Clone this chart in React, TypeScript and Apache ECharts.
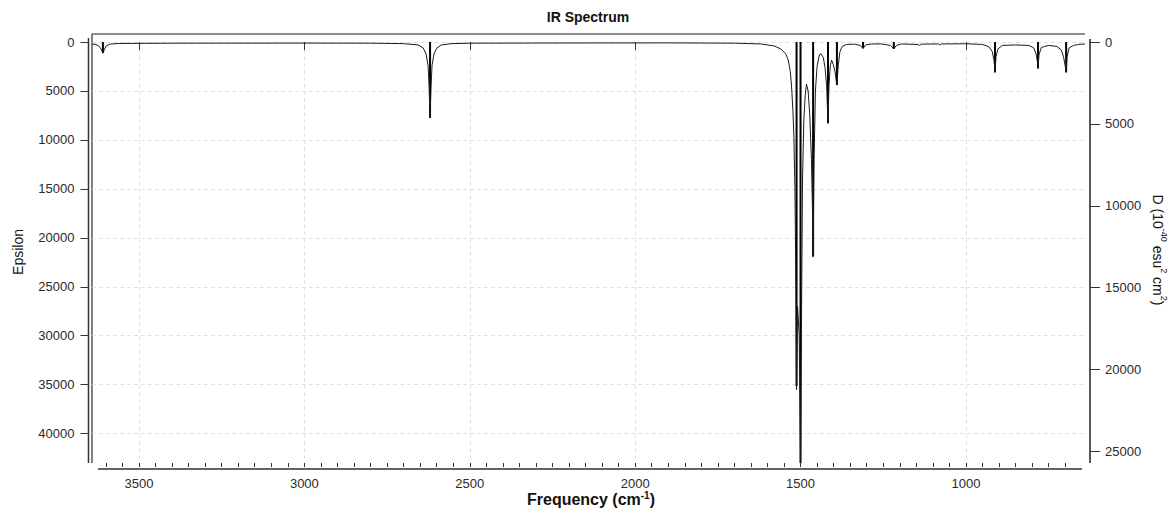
import React, { useEffect, useRef } from "react";
import * as echarts from "echarts";

// ---- data (frequency cm^-1, epsilon) ----
const specHigh: [number, number][] = [
  [3642, 200], [3630, 250], [3620, 450], [3613, 800], [3609, 1150], [3605, 800], [3599, 400],
  [3588, 220], [3560, 150], [3400, 120], [3000, 110], [2800, 120], [2700, 170], [2656, 300],
  [2641, 600], [2632, 1200], [2626, 2400], [2623, 4500], [2620, 7750], [2617, 4500], [2614, 2400],
  [2608, 1200], [2599, 600], [2586, 300], [2556, 170], [2500, 120], [2200, 100], [1900, 90],
  [1700, 120], [1620, 200],
];
const specMain: [number, number][] = [
  [1580, 400], [1560, 700], [1545, 1200], [1537, 1850], [1531, 3000], [1527, 4600], [1523, 7000],
  [1520, 9700], [1517, 15000], [1514, 25000], [1512, 35500], [1509, 27000], [1504, 30000],
  [1500, 43000], [1497, 28000], [1494, 14000], [1490, 8000], [1486, 5500], [1482, 4300],
  [1477, 5000], [1472, 7500], [1467, 12000], [1464, 17000], [1462, 21900], [1459, 12000],
  [1455, 5000], [1450, 2500], [1443, 1300], [1438, 1200], [1431, 1600], [1426, 2600],
  [1421, 4500], [1417, 8300], [1414, 4500], [1410, 2400], [1406, 1850], [1401, 2300],
  [1396, 3000], [1390, 4400], [1386, 2400], [1381, 1000], [1374, 450], [1361, 250],
];
const specLow: [number, number][] = [
  [1336, 220], [1320, 350], [1311, 650], [1303, 300], [1285, 200], [1255, 200], [1228, 350],
  [1218, 700], [1210, 350], [1195, 200], [1145, 250], [1140, 350], [1135, 220], [1082, 200],
  [1078, 320], [1074, 200], [1000, 180], [950, 250], [930, 500], [920, 1000], [915, 1900],
  [912, 3100], [909, 1500], [903, 700], [890, 350], [850, 300], [810, 350], [795, 600],
  [788, 1200], [784, 2000], [782, 2700], [779, 1300], [772, 550], [750, 350], [725, 450],
  [712, 800], [705, 1500], [700, 2400], [697, 3100], [694, 1500], [688, 600], [675, 350],
  [660, 250], [640, 200],
];
// stick spectrum (dipole strength D, right axis)
const stickFreq = [3609, 2620, 1512, 1500, 1462, 1417, 1390, 1311, 1218, 912, 782, 697];
const stickD = [650, 4630, 21000, 25700, 13100, 4960, 2630, 390, 420, 1850, 1610, 1850];

const xMajor = [1000, 1500, 2000, 2500, 3000, 3500];
const xMinor = [700, 750, 800, 850, 900, 950, 1000, 1050, 1100, 1150, 1200, 1250, 1300, 1350,
  1400, 1450, 1500, 1550, 1600, 1650, 1700, 1750, 1800, 1850, 1900, 1950, 2000, 2050, 2100,
  2150, 2200, 2250, 2300, 2350, 2400, 2450, 2500, 2550, 2600, 2650, 2700, 2750, 2800, 2850,
  2900, 2950, 3000, 3050, 3100, 3150, 3200, 3250, 3300, 3350, 3400, 3450, 3500, 3550, 3600];
const yLeftTicks = [0, 5000, 10000, 15000, 20000, 25000, 30000, 35000, 40000];
const yRightTicks = [0, 5000, 10000, 15000, 20000, 25000];

const FONT = "'Liberation Sans', Arial, Helvetica, sans-serif";
const TXT = "#2a2a2a";
const plain = (v: number) => String(v);

export default function App() {
  const ref = useRef<HTMLDivElement>(null);
  useEffect(() => {
    if (!ref.current) return;
    const chart = echarts.init(ref.current, null, { renderer: "svg" });
    const curve = [...specHigh, ...specMain, ...specLow];
    const sticks = stickFreq.map((f, i) => [f, stickD[i]]);
    const xMin = 640, xMax = 3642;
    const gridBox = { left: 92, right: 87, top: 42, bottom: 46, containLabel: false };
    chart.setOption({
      animation: false,
      backgroundColor: "#ffffff",
      grid: [gridBox, { ...gridBox }],
      xAxis: [
        {
          type: "value", gridIndex: 0, inverse: true, min: xMin, max: xMax, position: "bottom", offset: 6,
          axisLine: { show: false },
          axisTick: { show: true, length: 8, customValues: xMajor, lineStyle: { color: "#333" } },
          axisLabel: { customValues: xMajor, margin: 8, color: TXT, fontSize: 13, fontFamily: FONT, formatter: plain },
          splitLine: { show: true, lineStyle: { color: "#e0e0e0", type: [4, 3], width: 1 } },
        },
        {
          type: "value", gridIndex: 1, inverse: true, min: xMin, max: xMax, position: "bottom", offset: 6,
          axisLine: { show: false },
          axisTick: { show: true, length: 4, customValues: xMinor, lineStyle: { color: "#333" } },
          axisLabel: { show: false },
          splitLine: { show: false },
        },
      ],
      yAxis: [
        {
          type: "value", gridIndex: 0, inverse: true, min: 0, max: 43000, position: "left", offset: 3.5,
          axisLine: { show: false },
          axisTick: { show: true, length: 8, customValues: yLeftTicks, lineStyle: { color: "#333" } },
          axisLabel: { customValues: yLeftTicks, margin: 14, color: TXT, fontSize: 13, fontFamily: FONT, formatter: plain },
          splitLine: { show: true, lineStyle: { color: "#e0e0e0", type: [4, 3], width: 1 } },
        },
        {
          type: "value", gridIndex: 0, inverse: true, min: 0, max: 25700, position: "right", offset: 5,
          axisLine: { show: false },
          axisTick: { show: true, length: 10, customValues: yRightTicks, lineStyle: { color: "#333" } },
          axisLabel: { customValues: yRightTicks, margin: 15, color: TXT, fontSize: 13, fontFamily: FONT, formatter: plain },
          splitLine: { show: false },
        },
        {
          type: "value", gridIndex: 1, show: false, min: 0, max: 43000,
        },
      ],
      series: [
        {
          type: "bar", name: "sticks", xAxisIndex: 0, yAxisIndex: 1, data: sticks,
          barWidth: 2, itemStyle: { color: "#000" }, silent: true,
        },
        {
          type: "line", name: "IR", xAxisIndex: 0, yAxisIndex: 0, data: curve,
          showSymbol: false, symbol: "none", lineStyle: { color: "#1a1a1a", width: 1 },
        },
      ],
      graphic: [
        { type: "line", shape: { x1: 92, y1: 34, x2: 1085, y2: 34 }, style: { stroke: "#8c8c8c", lineWidth: 2 } },
        { type: "line", shape: { x1: 92, y1: 34, x2: 92, y2: 463 }, style: { stroke: "#555", lineWidth: 1.5 } },
        { type: "line", shape: { x1: 88.5, y1: 38, x2: 88.5, y2: 463 }, style: { stroke: "#333", lineWidth: 1.5 } },
        { type: "line", shape: { x1: 98, y1: 469, x2: 1082, y2: 469 }, style: { stroke: "#333", lineWidth: 1.5 } },
        { type: "line", shape: { x1: 1090, y1: 39, x2: 1090, y2: 463 }, style: { stroke: "#222", lineWidth: 1.5 } },
        {
          type: "text", x: 588, y: 17,
          style: { text: "IR Spectrum", font: `bold 14px ${FONT}`, fill: "#111", align: "center", verticalAlign: "middle" },
        },
        {
          type: "text", x: 591, y: 499,
          style: {
            text: "{a|Frequency (cm}{s|-1}{a|)}", align: "center", verticalAlign: "middle", fill: "#111",
            rich: {
              a: { fontSize: 16, fontWeight: "bold", fontFamily: FONT, lineHeight: 18, verticalAlign: "middle", fill: "#111" },
              s: { fontSize: 10, fontWeight: "bold", fontFamily: FONT, lineHeight: 18, verticalAlign: "top", fill: "#111" },
            },
          },
        },
        {
          type: "text", x: 18, y: 252, rotation: Math.PI / 2,
          style: { text: "Epsilon", font: `14px ${FONT}`, fill: "#111", align: "center", verticalAlign: "middle" },
        },
        {
          type: "text", x: 1158, y: 250, rotation: -Math.PI / 2,
          style: {
            text: "{a|D (10}{s|-40}{a| esu}{s|2}{a| cm}{s|2}{a|)}", align: "center", verticalAlign: "middle", fill: "#111",
            rich: {
              a: { fontSize: 14, fontFamily: FONT, lineHeight: 20, verticalAlign: "middle", fill: "#111" },
              s: { fontSize: 9, fontFamily: FONT, lineHeight: 20, verticalAlign: "top", fill: "#111" },
            },
          },
        },
      ],
    });
    return () => chart.dispose();
  }, []);
  return <div ref={ref} style={{ position: "fixed", left: 0, top: 0, width: 1172, height: 509 }} />;
}
